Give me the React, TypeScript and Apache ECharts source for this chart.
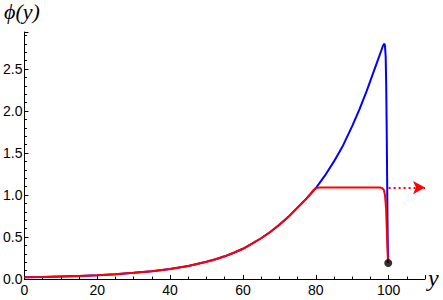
import React, { useEffect, useRef } from "react";
import * as echarts from "echarts";

const xTicks = [0, 20, 40, 60, 80, 100];
const yTicks = [0, 0.5, 1.0, 1.5, 2.0, 2.5];

const blueCurve: [number, number][] = [
  [0, 0.02], [5, 0.024], [10, 0.03], [15, 0.036], [20, 0.045], [25, 0.057],
  [30, 0.073], [35, 0.093], [40, 0.12], [45, 0.155], [50, 0.205], [52.5, 0.235],
  [55, 0.27], [57.5, 0.312], [60, 0.36], [62.5, 0.42], [65, 0.485], [67.5, 0.56],
  [70, 0.645], [72.5, 0.74], [75, 0.85], [77.5, 0.96], [80, 1.08],
  [82.5, 1.23], [85, 1.4], [87.5, 1.59], [90, 1.82], [92, 2.02], [94, 2.24],
  [96, 2.48], [97, 2.6], [98, 2.72], [98.5, 2.78], [98.8, 2.8], [99.0, 2.78],
  [99.2, 2.65], [99.35, 2.3], [99.5, 1.7], [99.6, 1.2], [99.7, 0.7],
  [99.8, 0.35], [99.9, 0.19],
];

const redCurve: [number, number][] = [
  [0, 0.02], [5, 0.024], [10, 0.03], [15, 0.036], [20, 0.045], [25, 0.057],
  [30, 0.073], [35, 0.093], [40, 0.12], [45, 0.155], [50, 0.205], [52.5, 0.235],
  [55, 0.27], [57.5, 0.312], [60, 0.36], [62.5, 0.42], [65, 0.485], [67.5, 0.56],
  [70, 0.645], [72.5, 0.74], [75, 0.85], [77.5, 0.96], [78.5, 1.01], [79.2, 1.05],
  [79.8, 1.074], [80.4, 1.085], [81.2, 1.088], [90, 1.088], [97.8, 1.088],
  [98.3, 1.08], [98.7, 1.06], [99.0, 1.0], [99.3, 0.85], [99.5, 0.6],
  [99.7, 0.35], [99.85, 0.19],
];

const arrowStart: [number, number] = [100, 1.088];
const arrowEnd: [number, number] = [110, 1.088];
const endPoint: [number, number] = [99.9, 0.19];

export default function App() {
  const ref = useRef<HTMLDivElement>(null);
  useEffect(() => {
    document.body.style.margin = "0";
    if (!ref.current) return;
    const chart = echarts.init(ref.current, null, { renderer: "svg" });
    const labelFont = { fontFamily: "Liberation Sans", fontSize: 14, color: "#000" };
    chart.setOption({
      animation: false,
      backgroundColor: "#fff",
      grid: { left: 24, right: 18, top: 32, bottom: 21, containLabel: false },
      xAxis: {
        type: "value",
        min: 0,
        max: 110,
        interval: 20,
        splitLine: { show: false },
        axisLine: { lineStyle: { color: "#000", width: 1 } },
        axisTick: { inside: true, length: 4, lineStyle: { color: "#000" } },
        minorTick: { show: true, splitNumber: 4, length: 2.5, lineStyle: { color: "#000" } },
        axisLabel: {
          ...labelFont,
          margin: 4,
          formatter: (v: number) => (xTicks.includes(v) ? String(v) : ""),
        },
      },
      yAxis: {
        type: "value",
        min: 0,
        max: 2.94,
        interval: 0.5,
        splitLine: { show: false },
        axisLine: { lineStyle: { color: "#000", width: 1 } },
        axisTick: { inside: true, length: 4, lineStyle: { color: "#000" } },
        minorTick: { show: true, splitNumber: 5, length: 2.5, lineStyle: { color: "#000" } },
        axisLabel: {
          ...labelFont,
          margin: 2,
          formatter: (v: number) => (yTicks.some((t) => Math.abs(t - v) < 1e-9) ? v.toFixed(1) : ""),
        },
      },
      series: [
        {
          type: "line",
          data: blueCurve,
          showSymbol: false,
          lineStyle: { color: "#0000ff", width: 2 },
          z: 2,
        },
        {
          type: "line",
          data: redCurve,
          showSymbol: false,
          lineStyle: { color: "#ff0000", width: 2 },
          z: 3,
          markLine: {
            silent: true,
            symbol: ["none", "arrow"],
            symbolSize: [10, 12],
            label: { show: false },
            lineStyle: { color: "#ff0000", width: 2, type: [2, 3] },
            data: [[{ coord: arrowStart }, { coord: arrowEnd }]],
          },
        },
        {
          type: "scatter",
          data: [endPoint],
          symbolSize: 8,
          itemStyle: { color: "#000" },
          z: 4,
        },
      ],
      graphic: [
        {
          type: "text",
          left: 4,
          top: 0,
          style: {
            text: "ϕ(y)",
            fontFamily: "Liberation Serif",
            fontStyle: "italic",
            fontSize: 22,
            fill: "#000",
          },
        },
        {
          type: "text",
          left: 428,
          top: 266,
          style: {
            text: "y",
            fontFamily: "Liberation Serif",
            fontStyle: "italic",
            fontSize: 24,
            fill: "#000",
          },
        },
      ],
    });
    return () => chart.dispose();
  }, []);
  return <div ref={ref} style={{ width: 443, height: 300 }} />;
}
